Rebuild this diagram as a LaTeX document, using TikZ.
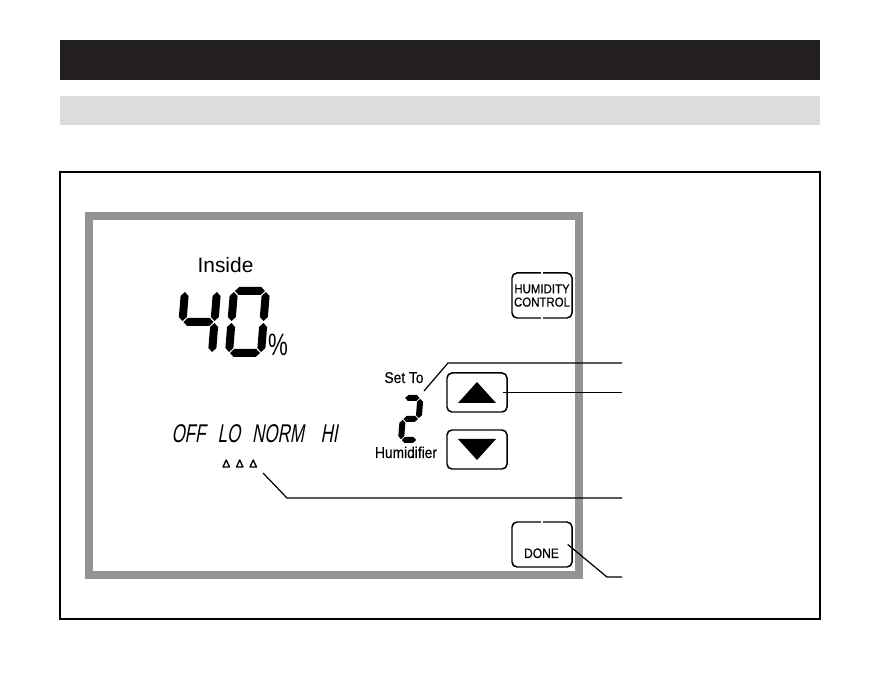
\documentclass[tikz,border=0pt]{standalone}
\usepackage{fontspec}
\setmainfont{Liberation Sans}
\newfontfamily\condfont[FakeStretch=0.88,FakeBold=0.4]{Liberation Sans}
\newfontfamily\pctfont[FakeStretch=0.72]{Liberation Sans}
\newfontfamily\lcdfont[FakeStretch=0.66,FakeSlant=0.18]{Liberation Sans}
\usepackage{xcolor}
\usepackage{tikz}
\usetikzlibrary{positioning}

\definecolor{barblack}{HTML}{231F20}
\definecolor{bargray}{HTML}{DCDCDC}
\definecolor{lcdframe}{HTML}{949494}

% seven segment pieces, local units in px
\def\segt{8}
\def\segg{1}
\newcommand{\hseg}[3]{\fill (#1+\segg,#2) -- (#1+\segg+\segt/2,#2+\segt/2) -- (#1+#3-\segg-\segt/2,#2+\segt/2) -- (#1+#3-\segg,#2) -- (#1+#3-\segg-\segt/2,#2-\segt/2) -- (#1+\segg+\segt/2,#2-\segt/2) -- cycle;}
\newcommand{\vseg}[3]{\fill (#1,#2+\segg) -- (#1+\segt/2,#2+\segg+\segt/2) -- (#1+\segt/2,#2+#3-\segg-\segt/2) -- (#1,#2+#3-\segg) -- (#1-\segt/2,#2+#3-\segg-\segt/2) -- (#1-\segt/2,#2+\segg+\segt/2) -- cycle;}

\tikzset{
  btn/.style={draw, rounded corners=1mm, line width=0.85pt, minimum width=12mm, inner sep=0pt},
  leader/.style={line width=0.7pt},
  lbl/.style={inner sep=0pt, font=\condfont\fontsize{8.9}{10}\selectfont},
  lcd/.style={anchor=base, inner sep=0pt, font=\lcdfont\fontsize{14.6}{16}\selectfont},
  gapline/.style={white, line width=1.8pt},
}

\begin{document}
\begin{tikzpicture}[x=0.2mm, y=-0.2mm]
    \useasboundingbox (0,0) rectangle (881,681);

    % Header bars
    \fill[barblack] (60,40) rectangle (820,80);
    \fill[bargray] (60,96) rectangle (820,125);

    % Outer frame and display frame
    \draw[line width=0.75pt] (60,172) rectangle (820,619);
    \draw[lcdframe, line width=4.5pt] (89,216) rectangle (579,575);

    % Inside reading
    \node[anchor=base, inner sep=0pt, font=\fontsize{11.9}{14}\selectfont] (inside) at (225.5,273) {Inside};
    \begin{scope}[shift={(180,353)}, y=0.2mm, xslant=0.08]
        \vseg{0}{31}{31} \hseg{0}{31}{32} \vseg{32}{31}{31} \vseg{32}{0}{31}
    \end{scope}
    \begin{scope}[shift={(229,353)}, y=0.2mm, xslant=0.08]
        \hseg{0}{62}{32} \vseg{32}{31}{31} \vseg{32}{0}{31}
        \hseg{0}{0}{32} \vseg{0}{0}{31} \vseg{0}{31}{31}
    \end{scope}
    \node[anchor=base, inner sep=0pt, font=\pctfont\fontsize{17.6}{20}\selectfont] (pct) at (278,356) {\%};

    % Mode line
    \node[lcd] (off) at (188.5,443) {OFF};
    \node[lcd] (lo) at (229,443) {LO};
    \node[lcd] (norm) at (278,443) {NORM};
    \node[lcd] (hi) at (329,443) {HI};
    \draw[line width=0.75pt, line join=round] (223,467) -- (229.5,467) -- (226.2,460) -- cycle;
    \draw[line width=0.75pt, line join=round] (236.5,467) -- (243,467) -- (239.7,460) -- cycle;
    \draw[line width=0.75pt, line join=round] (250,467) -- (256.5,467) -- (253.2,460) -- cycle;

    % Set point
    \node[lbl, anchor=base] (setto) at (404,383) {Set To};
    \begin{scope}[shift={(401,440)}, y=0.2mm, xslant=0.08]
        \def\segt{6}\def\segg{0.8}
        \hseg{0}{42}{16} \vseg{16}{21}{21} \hseg{0}{21}{16}
        \vseg{0}{0}{21} \hseg{0}{0}{16}
    \end{scope}
    \node[lbl, anchor=base] (humid) at (406,458) {Humidifier};

    % Buttons
    \node[btn, minimum height=9mm, align=center, font=\condfont\fontsize{7.4}{7.6}\selectfont] (humctl) at (542,295.5) {HUMIDITY\\CONTROL};
    \draw[gapline] ([xshift=-0.25mm]humctl.north) -- ([xshift=0.25mm]humctl.north);
    \draw[gapline] ([xshift=-0.25mm]humctl.south) -- ([xshift=0.25mm]humctl.south);

    \node[btn, minimum height=7.8mm] (up) at (477,392.5) {};
    \fill (up.center) ++(-19,10.5) -- ++(38,0) -- ++(-19,-21) -- cycle;
    \node[btn, minimum height=7.8mm] (down) at (477,449.5) {};
    \fill (down.center) ++(-19,-10.5) -- ++(38,0) -- ++(-19,21) -- cycle;

    \node[btn, minimum height=9mm] (done) at (542,544.5) {};
    \draw[gapline] ([xshift=-0.25mm]done.north) -- ([xshift=0.25mm]done.north);
    \node[anchor=base, inner sep=0pt, font=\condfont\fontsize{7.8}{9}\selectfont] (donetxt) at (541.5,558) {DONE};

    % Leader lines
    \coordinate (tip2) at (424,391);
    \coordinate (bend2) at (448,363);
    \coordinate (end2) at (622,363);
    \coordinate (upend) at (622,392.5);
    \coordinate (tipmode) at (263,473);
    \coordinate (bendmode) at (287,498);
    \coordinate (endmode) at (622,498);
    \coordinate (benddone) at (607,577);
    \coordinate (enddone) at (622,577);
    \draw[leader] (tip2) -- (bend2) -- (end2);
    \draw[leader] ([xshift=-1mm]up.east) -- (upend);
    \draw[leader] (tipmode) -- (bendmode) -- (endmode);
    \draw[leader] ([xshift=-1mm]done.east) -- (benddone) -- (enddone);
\end{tikzpicture}
\end{document}
